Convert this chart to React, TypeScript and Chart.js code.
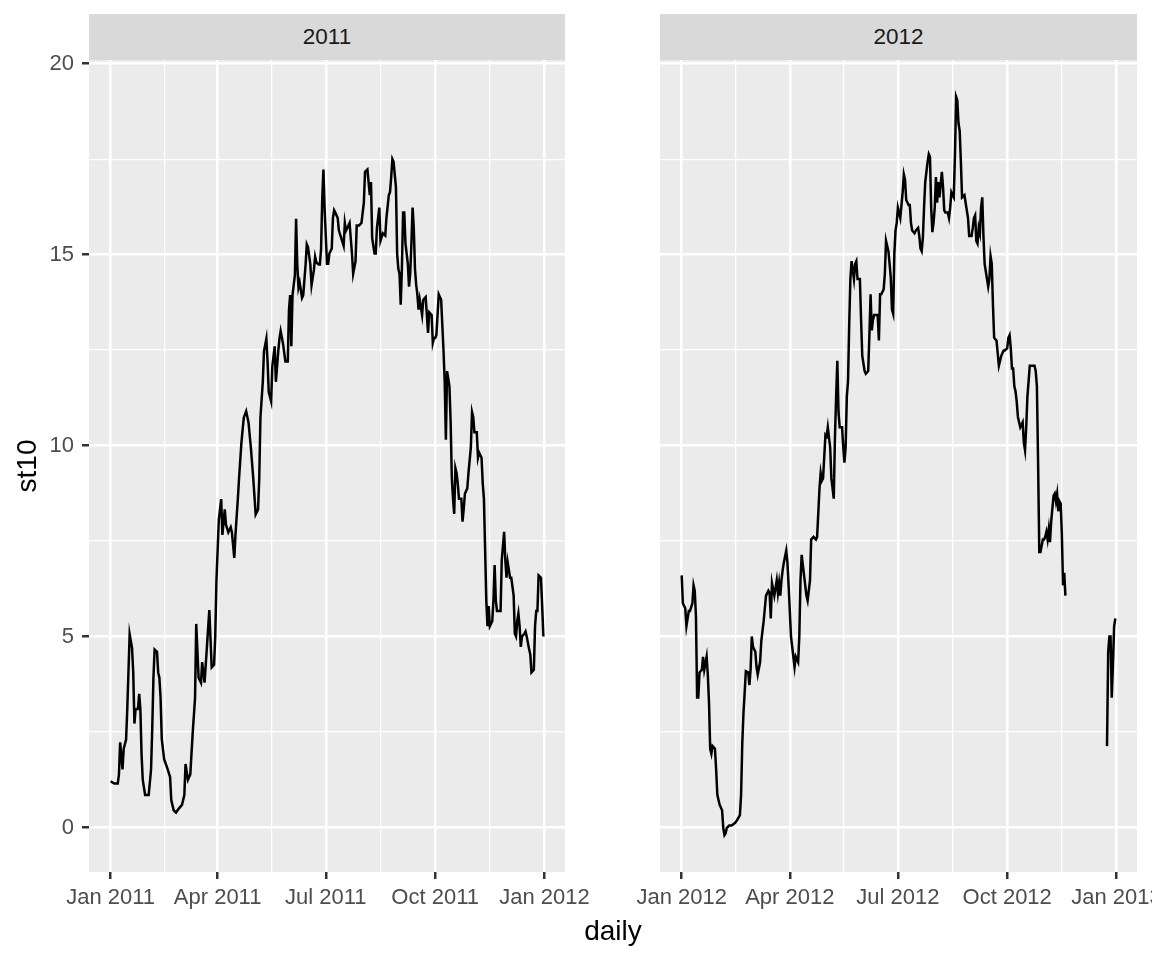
import React, { useEffect, useRef } from "react";
import { Chart, registerables } from "chart.js";

Chart.register(...registerables);

const FONT = "'Liberation Sans', Arial, Helvetica, sans-serif";

// ---- data (day of year, st10) ----
const days2011 = [
  0, 3, 6, 7, 8, 10, 11, 13, 14, 16,
  18, 19, 20, 21, 23, 24, 25, 26, 27, 29,
  32, 34, 35, 36, 37, 39, 40, 41, 42, 43,
  45, 48, 50, 51, 53, 55, 57, 60, 62, 63,
  65, 67, 69, 71, 72, 74, 76, 77, 79, 81,
  83, 85, 87, 88, 89, 91, 93, 94, 96, 97,
  99, 101, 102, 104, 105, 107, 108, 110, 112, 114,
  116, 118, 120, 122, 124, 125, 126, 128, 129, 131,
  132, 133, 135, 136, 138, 139, 141, 142, 143, 145,
  147, 149, 150, 151, 152, 153, 155, 156, 157, 158,
  159, 161, 162, 164, 165, 166, 168, 169, 171, 172,
  173, 175, 176, 177, 178, 179, 180, 182, 183, 184,
  186, 187, 188, 189, 191, 192, 194, 196, 197, 198,
  200, 201, 203, 204, 206, 207, 209, 211, 213, 214,
  216, 218, 219, 220, 222, 223, 224, 226, 227, 229,
  231, 232, 234, 235, 236, 237, 238, 240, 241, 242,
  243, 244, 245, 246, 247, 248, 250, 251, 252, 253,
  254, 255, 256, 257, 258, 259, 260, 262, 263, 265,
  266, 267, 268, 270, 271, 272, 273, 274, 276, 278,
  279, 280, 281, 282, 283, 284, 285, 286, 287, 288,
  289, 290, 291, 292, 293, 295, 296, 297, 298, 300,
  301, 303, 304, 305, 306, 308, 309, 310, 312, 313,
  314, 315, 316, 317, 318, 319, 321, 322, 323, 324,
  325, 327, 328, 329, 331, 332, 333, 334, 336, 337,
  339, 340, 341, 342, 343, 344, 345, 346, 348, 349,
  350, 352, 353, 354, 356, 357, 358, 359, 360, 362,
  363, 364,
];
const st10_2011 = [
  1.21, 1.15, 1.15, 1.39, 2.23, 1.52, 2.06, 2.3, 3.1, 5.06,
  4.7, 4.06, 2.72, 3.1, 3.1, 3.5, 3.1, 1.92, 1.25, 0.85,
  0.85, 1.52, 2.59, 3.92, 4.66, 4.6, 4.06, 3.92, 3.4, 2.32,
  1.79, 1.52, 1.32, 0.72, 0.45, 0.39, 0.48, 0.59, 0.85, 1.66,
  1.25, 1.39, 2.46, 3.39, 5.33, 3.92, 3.79, 4.33, 3.79, 4.73,
  5.69, 4.19, 4.26, 5.0, 6.46, 8.06, 8.6, 7.66, 8.33, 7.93,
  7.73, 7.86, 7.73, 7.06, 7.66, 8.6, 9.13, 10.07, 10.73, 10.9,
  10.6, 9.93, 9.13, 8.2, 8.33, 9.13, 10.73, 11.67, 12.47, 12.8,
  12.2, 11.4, 11.16, 12.07, 12.6, 11.67, 12.47, 12.8, 13.0, 12.67,
  12.2, 12.2, 13.54, 13.94, 12.6, 13.94, 14.47, 15.94, 14.74, 14.14,
  14.27, 13.87, 13.94, 14.74, 15.27, 15.2, 14.74, 14.2, 14.6, 14.94,
  14.8, 14.74, 14.74, 15.14, 16.47, 17.23, 16.2, 14.76, 14.76, 15.03,
  15.16, 15.96, 16.16, 16.1, 15.96, 15.63, 15.43, 15.23, 15.83, 15.63,
  15.76, 15.83, 15.03, 14.5, 14.83, 15.76, 15.76, 15.83, 16.36, 17.17,
  17.23, 16.56, 16.9, 15.43, 15.03, 15.03, 15.7, 16.23, 15.36, 15.56,
  15.5, 15.96, 16.56, 16.63, 17.03, 17.5, 17.43, 16.76, 15.03, 14.63,
  14.5, 13.69, 14.63, 16.1, 16.1, 15.3, 14.76, 14.16, 14.5, 15.3,
  16.23, 15.7, 14.63, 14.22, 13.96, 13.56, 13.82, 13.42, 13.82, 13.89,
  13.42, 12.95, 13.49, 13.42, 12.69, 12.82, 12.82, 12.89, 13.96, 13.82,
  13.16, 12.49, 11.68, 10.15, 11.95, 11.75, 11.55, 10.61, 9.14, 8.61,
  8.21, 9.41, 9.28, 9.01, 8.61, 8.61, 8.01, 8.34, 8.74, 8.88,
  9.28, 9.95, 10.88, 10.75, 10.35, 10.35, 9.68, 9.81, 9.68, 9.01,
  8.61, 7.27, 5.94, 5.27, 5.8, 5.27, 5.4, 5.94, 6.87, 5.94,
  5.67, 5.67, 5.67, 7.0, 7.74, 7.0, 6.54, 6.94, 6.54, 6.54,
  6.07, 5.07, 5.0, 5.4, 5.6, 5.27, 4.73, 5.0, 5.07, 5.13,
  5.0, 4.67, 4.53, 4.06, 4.13, 5.27, 5.67, 5.67, 6.6, 6.54,
  5.8, 5.0,
];

const days2012 = [
  0, 1, 3, 4, 6, 7, 9, 10, 11, 12,
  13, 14, 15, 17, 18, 19, 21, 22, 23, 24,
  25, 26, 28, 29, 30, 31, 32, 34, 35, 36,
  37, 38, 40, 42, 45, 47, 49, 50, 51, 52,
  53, 54, 56, 57, 58, 59, 60, 62, 63, 64,
  66, 67, 69, 70, 71, 73, 74, 75, 76, 78,
  80, 81, 82, 83, 84, 85, 86, 88, 89, 90,
  91, 92, 94, 95, 96, 98, 99, 100, 101, 102,
  104, 105, 106, 108, 109, 111, 113, 114, 116, 117,
  118, 119, 121, 122, 123, 125, 126, 127, 128, 129,
  130, 131, 132, 133, 135, 136, 137, 138, 139, 140,
  141, 142, 143, 145, 146, 147, 148, 150, 151, 152,
  154, 155, 157, 158, 159, 160, 161, 162, 164, 165,
  166, 167, 168, 170, 171, 172, 174, 175, 176, 177,
  178, 179, 180, 181, 182, 184, 185, 186, 187, 188,
  189, 191, 192, 193, 194, 196, 197, 199, 200, 201,
  202, 203, 204, 205, 207, 208, 209, 210, 211, 212,
  213, 214, 215, 216, 217, 219, 220, 221, 222, 224,
  225, 226, 227, 228, 229, 230, 231, 232, 233, 234,
  235, 236, 238, 239, 240, 241, 242, 244, 245, 246,
  247, 248, 249, 250, 251, 252, 253, 254, 255, 257,
  258, 259, 260, 261, 262, 263, 265, 266, 267, 268,
  269, 271, 272, 274, 275, 276, 277, 278, 279, 280,
  281, 282, 283, 284, 285, 287, 288, 289, 290, 291,
  292, 293, 294, 296, 297, 298, 299, 300, 301, 302,
  304, 305, 306, 307, 308, 309, 310, 311, 313, 314,
  315, 316, 317, 318, 319, 320, 321, 322, 323, 340,
  358, 359, 360, 361, 362, 363, 364, 365,
];
const st10_2012: (number | null)[] = [
  6.6, 5.87, 5.74, 5.27, 5.67, 5.67, 5.87, 6.34, 6.2, 5.53,
  3.4, 3.4, 4.06, 4.13, 4.47, 4.13, 4.47, 4.0, 3.26, 2.06,
  1.93, 2.13, 2.06, 1.52, 0.86, 0.72, 0.59, 0.45, -0.01, -0.2,
  -0.15, -0.01, 0.05, 0.05, 0.12, 0.21, 0.32, 0.86, 2.19, 2.99,
  3.53, 4.09, 4.06, 3.73, 4.13, 5.0, 4.73, 4.6, 4.2, 4.0,
  4.33, 4.87, 5.4, 5.74, 6.07, 6.2, 6.14, 5.47, 6.4, 6.07,
  6.47, 6.14, 6.4, 6.07, 6.47, 6.74, 6.94, 7.25, 6.94, 6.34,
  5.67, 5.0, 4.47, 4.2, 4.47, 4.33, 5.0, 6.47, 7.14, 6.87,
  6.34, 6.07, 5.94, 6.47, 7.54, 7.61, 7.54, 7.61, 8.88, 9.28,
  9.08, 9.14, 10.28, 10.24, 10.48, 9.95, 9.14, 8.88, 8.61, 10.21,
  11.28, 12.22, 10.88, 10.48, 10.48, 9.95, 9.55, 9.95, 11.28, 11.68,
  13.16, 14.36, 14.83, 14.36, 14.76, 14.83, 14.36, 14.36, 13.29, 12.35,
  11.95, 11.88, 11.95, 12.89, 13.96, 13.02, 13.29, 13.42, 13.42, 13.42,
  12.75, 13.96, 13.96, 14.09, 14.49, 15.36, 15.09, 14.76, 14.4, 13.56,
  13.45, 15.03, 15.63, 15.83, 16.23, 15.96, 16.3, 16.63, 17.1, 16.96,
  16.43, 16.3, 16.3, 15.83, 15.63, 15.56, 15.63, 15.7, 15.49, 15.16,
  15.09, 15.43, 16.23, 16.9, 17.43, 17.63, 17.56, 16.23, 15.59, 15.83,
  16.23, 17.03, 16.36, 16.9, 16.5, 17.17, 16.76, 16.16, 16.1, 16.1,
  15.96, 16.23, 16.63, 16.56, 16.5, 17.57, 19.13, 19.04, 18.44, 18.24,
  17.43, 16.5, 16.56, 16.36, 16.16, 15.96, 15.49, 15.49, 15.7, 15.96,
  16.03, 15.36, 15.29, 15.7, 15.56, 16.23, 16.5, 15.49, 14.76, 14.36,
  14.16, 14.36, 14.96, 14.76, 13.69, 12.82, 12.75, 12.42, 12.09, 12.22,
  12.35, 12.49, 12.49, 12.55, 12.82, 12.89, 12.55, 12.02, 12.02, 11.55,
  11.42, 11.15, 10.75, 10.61, 10.48, 10.61, 10.08, 9.88, 10.48, 11.28,
  11.68, 12.09, 12.09, 12.09, 12.09, 11.95, 11.55, 9.55, 7.21, 7.21,
  7.54, 7.54, 7.61, 7.74, 7.54, 7.81, 7.47, 8.01, 8.68, 8.74,
  8.54, 8.74, 8.28, 8.54, 8.48, 7.67, 6.34, 6.67, 6.07, null,
  2.13, 4.6, 5.0, 5.0, 3.4, 4.26, 5.27, 5.47,
];

const facetLabels = ["2011", "2012"];
const xBreaks2011 = [0, 90, 181, 273, 365];
const xLabels2011 = ["Jan 2011", "Apr 2011", "Jul 2011", "Oct 2011", "Jan 2012"];
const xBreaks2012 = [0, 91, 182, 274, 366];
const xLabels2012 = ["Jan 2012", "Apr 2012", "Jul 2012", "Oct 2012", "Jan 2013"];
const yBreaks = [0, 5, 10, 15, 20];
const yLabels = ["0", "5", "10", "15", "20"];
const xTitle = "daily";
const yTitle = "st10";

// ---- helpers ----
function expand(lo: number, hi: number, m = 0.05): [number, number] {
  const r = hi - lo;
  return [lo - r * m, hi + r * m];
}
function midpoints(b: number[]) {
  const out: number[] = [];
  for (let i = 0; i < b.length - 1; i++) out.push((b[i] + b[i + 1]) / 2);
  return out;
}
const allVals = [...st10_2011, ...st10_2012].filter((v) => v !== null) as number[];
const [yMin, yMax] = expand(Math.min(...allVals), Math.max(...allVals));

const MAJOR_W = 2.5;
const MINOR_W = 1.25;
const TICK_FONT = { family: FONT, size: 22, lineHeight: 1.2 };

const panelBg = {
  id: "panelBg",
  beforeDraw(chart: any) {
    const { ctx, chartArea: a } = chart;
    ctx.save();
    ctx.fillStyle = "#EBEBEB";
    ctx.fillRect(a.left, a.top, a.right - a.left, a.bottom - a.top);
    ctx.restore();
  },
};

type PanelCfg = {
  days: number[];
  values: (number | null)[];
  breaks: number[];
  labels: string[];
  showY: boolean;
  yAxisWidth: number;
  padRight: number;
};

function makeChart(canvas: HTMLCanvasElement, cfg: PanelCfg) {
  const { days, values, breaks, labels, showY, yAxisWidth, padRight } = cfg;
  const [xMin, xMax] = expand(days[0], days[days.length - 1]);
  const xMinor = midpoints(breaks);
  const yMinor = midpoints(yBreaks);
  const isMajX = (v: number) => breaks.some((b) => Math.abs(b - v) < 1e-6);
  const isMajY = (v: number) => yBreaks.some((b) => Math.abs(b - v) < 1e-6);
  const xAll = [...breaks, ...xMinor].sort((a, b) => a - b);
  const yAll = [...yBreaks, ...yMinor].sort((a, b) => a - b);

  return new Chart(canvas, {
    type: "line",
    data: {
      datasets: [
        {
          data: days.map((d, i) => ({ x: d, y: values[i] })) as any,
          borderColor: "#000000",
          borderWidth: 2.5,
          pointRadius: 0,
          pointHoverRadius: 0,
          tension: 0,
          spanGaps: false,
          fill: false,
        },
      ],
    },
    options: {
      animation: false,
      responsive: false,
      maintainAspectRatio: false,
      devicePixelRatio: 1,
      events: [],
      layout: {
        autoPadding: false,
        padding: { left: 0, top: 60, right: padRight, bottom: 0 },
      },
      plugins: {
        legend: { display: false },
        tooltip: { enabled: false },
        title: { display: false },
      },
      scales: {
        x: {
          type: "linear",
          min: xMin,
          max: xMax,
          bounds: "data",
          afterBuildTicks: (s: any) => {
            s.ticks = xAll.map((v) => ({ value: v }));
          },
          afterFit: (s: any) => {
            s.height = 88;
            s.paddingLeft = 0;
            s.paddingRight = 0;
          },
          ticks: {
            autoSkip: false,
            maxRotation: 0,
            minRotation: 0,
            padding: 5.5,
            color: "#4D4D4D",
            font: TICK_FONT,
            callback: (v: any) => {
              const i = breaks.findIndex((b) => Math.abs(b - Number(v)) < 1e-6);
              return i >= 0 ? labels[i] : "";
            },
          },
          grid: {
            color: "#FFFFFF",
            lineWidth: (c: any) => (c.tick && isMajX(c.tick.value) ? MAJOR_W : MINOR_W),
            drawTicks: true,
            tickLength: 7,
            tickWidth: MAJOR_W,
            tickColor: (c: any) => (c.tick && isMajX(c.tick.value) ? "#333333" : "rgba(0,0,0,0)"),
          },
          border: { display: false },
        },
        y: {
          type: "linear",
          min: yMin,
          max: yMax,
          bounds: "data",
          afterBuildTicks: (s: any) => {
            s.ticks = yAll.map((v) => ({ value: v }));
          },
          afterFit: (s: any) => {
            s.width = yAxisWidth;
          },
          ticks: {
            display: showY,
            padding: 8,
            color: "#4D4D4D",
            font: TICK_FONT,
            callback: (v: any) => {
              const i = yBreaks.findIndex((b) => Math.abs(b - Number(v)) < 1e-6);
              return i >= 0 ? yLabels[i] : "";
            },
          },
          grid: {
            color: "#FFFFFF",
            lineWidth: (c: any) => (c.tick && isMajY(c.tick.value) ? MAJOR_W : MINOR_W),
            drawTicks: showY,
            tickLength: 7,
            tickWidth: MAJOR_W,
            tickColor: (c: any) => (c.tick && isMajY(c.tick.value) ? "#333333" : "rgba(0,0,0,0)"),
          },
          border: { display: false },
        },
      },
    } as any,
    plugins: [panelBg],
  });
}

const stripStyle = (left: number, width: number): React.CSSProperties => ({
  position: "absolute",
  left,
  top: 14,
  width,
  height: 46,
  background: "#D9D9D9",
  color: "#1A1A1A",
  fontFamily: FONT,
  fontSize: 22.5,
  lineHeight: "46px",
  textAlign: "center",
});

export default function App() {
  const ref1 = useRef<HTMLCanvasElement | null>(null);
  const ref2 = useRef<HTMLCanvasElement | null>(null);

  useEffect(() => {
    const c1 = makeChart(ref1.current!, {
      days: days2011,
      values: st10_2011,
      breaks: xBreaks2011,
      labels: xLabels2011,
      showY: true,
      yAxisWidth: 89,
      padRight: 45,
    });
    const c2 = makeChart(ref2.current!, {
      days: days2012,
      values: st10_2012,
      breaks: xBreaks2012,
      labels: xLabels2012,
      showY: false,
      yAxisWidth: 50,
      padRight: 15,
    });
    return () => {
      c1.destroy();
      c2.destroy();
    };
  }, []);

  return (
    <div
      style={{
        position: "absolute",
        left: 0,
        top: 0,
        width: 1152,
        height: 960,
        background: "#FFFFFF",
        overflow: "hidden",
      }}
    >
      <canvas ref={ref1} width={610} height={960} style={{ position: "absolute", left: 0, top: 0 }} />
      <canvas ref={ref2} width={542} height={960} style={{ position: "absolute", left: 610, top: 0 }} />
      <div style={stripStyle(89, 476)}>{facetLabels[0]}</div>
      <div style={stripStyle(660, 477)}>{facetLabels[1]}</div>
      <div
        style={{
          position: "absolute",
          left: 513,
          top: 915,
          width: 200,
          height: 32,
          lineHeight: "32px",
          textAlign: "center",
          fontFamily: FONT,
          fontSize: 28,
          color: "#000000",
        }}
      >
        {xTitle}
      </div>
      <div
        style={{
          position: "absolute",
          left: 26.5 - 100,
          top: 466 - 16,
          width: 200,
          height: 32,
          lineHeight: "32px",
          textAlign: "center",
          fontFamily: FONT,
          fontSize: 28,
          color: "#000000",
          transform: "rotate(-90deg)",
        }}
      >
        {yTitle}
      </div>
    </div>
  );
}
